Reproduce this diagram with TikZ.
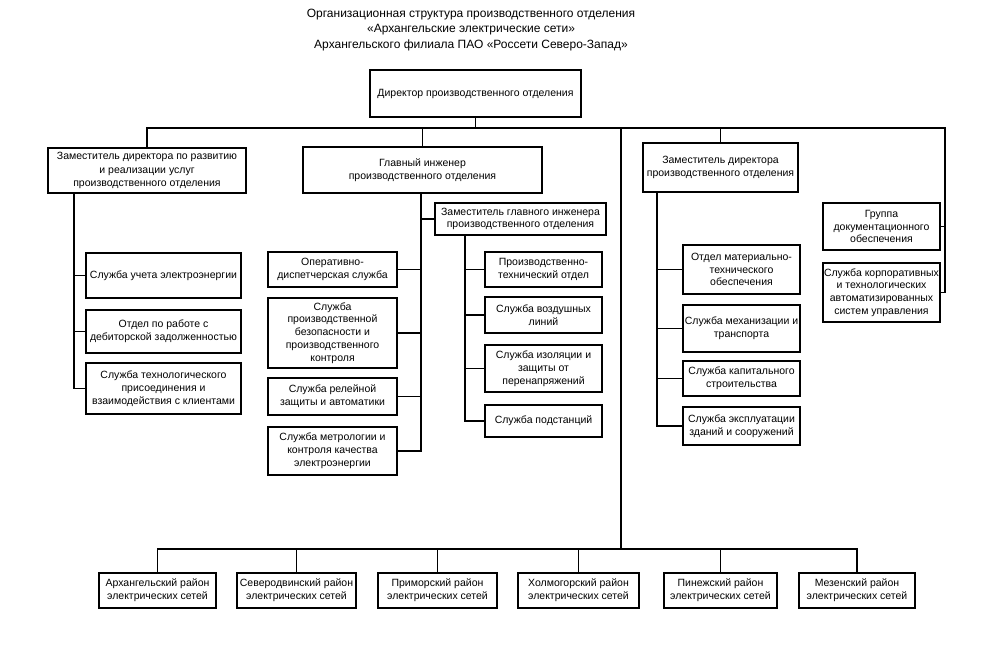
\documentclass[tikz,border=0pt]{standalone}
\usepackage{fontspec}
\setmainfont{Liberation Sans}
\begin{document}
\begin{tikzpicture}[x=1pt,y=-1pt]
\tikzset{
 box/.style={draw, line width=1.2pt, align=center, inner sep=0pt, font=\fontsize{10.5}{12.8}\selectfont},
 hbox/.style={box, font=\fontsize{10.5}{13.5}\selectfont},
 conn/.style={line width=1.1pt},
 ttl/.style={align=center, font=\fontsize{12}{15.5}\selectfont}
}
\fill[white] (0,0) rectangle (1001,665);
\useasboundingbox (0,0) rectangle (1001,665);

% title
\node[ttl] (title) at (471,30) {Организационная структура производственного отделения\\«Архангельские электрические сети»\\Архангельского филиала ПАО «Россети Северо-Запад»};

% top level
\node[hbox, minimum width=211pt, minimum height=47pt] (dir) at (475.5,93.5) {Директор производственного отделения};

\node[hbox, minimum width=198pt, minimum height=45pt] (zr) at (147,170.5) {Заместитель директора по развитию\\и реализации услуг\\производственного отделения};
\node[hbox, minimum width=239pt, minimum height=46pt] (gi) at (422.5,170) {Главный инженер\\производственного отделения};
\node[hbox, minimum width=155pt, minimum height=49pt] (zd) at (720.5,167.5) {Заместитель директора\\производственного отделения};

% left column
\node[box, minimum width=155pt, minimum height=45pt] (s1) at (163.5,275.5) {Служба учета электроэнергии};
\node[box, minimum width=155pt, minimum height=43pt] (s2) at (163.5,331.5) {Отдел по работе с\\дебиторской задолженностью};
\node[box, minimum width=155pt, minimum height=51pt] (s3) at (163.5,388.5) {Служба технологического\\присоединения и\\взаимодействия с клиентами};

% chief engineer column
\node[box, minimum width=129pt, minimum height=35pt] (o1) at (332.5,269.5) {Оперативно-\\диспетчерская служба};
\node[box, minimum width=129pt, minimum height=70pt] (o2) at (332.5,333) {Служба\\производственной\\безопасности и\\производственного\\контроля};
\node[box, minimum width=129pt, minimum height=37pt] (o3) at (332.5,396.5) {Служба релейной\\защиты и автоматики};
\node[box, minimum width=129pt, minimum height=48pt] (o4) at (332.5,451) {Служба метрологии и\\контроля качества\\электроэнергии};

\node[box, minimum width=171pt, minimum height=32pt] (zgi) at (520.5,219) {Заместитель главного инженера\\производственного отделения};
\node[box, minimum width=117pt, minimum height=35pt] (p1) at (543.5,269.5) {Производственно-\\технический отдел};
\node[box, minimum width=117pt, minimum height=36pt] (p2) at (543.5,315) {Служба воздушных\\линий};
\node[box, minimum width=117pt, minimum height=47pt] (p3) at (543.5,368.5) {Служба изоляции и\\защиты от\\перенапряжений};
\node[box, minimum width=117pt, minimum height=32pt] (p4) at (543.5,421) {Служба подстанций};

% deputy director column
\node[box, minimum width=117pt, minimum height=49pt] (m1) at (741.5,269.5) {Отдел материально-\\технического\\обеспечения};
\node[box, minimum width=117pt, minimum height=47pt] (m2) at (741.5,328.5) {Служба механизации и\\транспорта};
\node[box, minimum width=117pt, minimum height=35pt] (m3) at (741.5,378.5) {Служба капитального\\строительства};
\node[box, minimum width=117pt, minimum height=38pt] (m4) at (741.5,426) {Служба эксплуатации\\зданий и сооружений};

% right group
\node[box, minimum width=117pt, minimum height=47pt] (g1) at (881.5,226.5) {Группа\\документационного\\обеспечения};
\node[box, minimum width=117pt, minimum height=59pt] (g2) at (881.5,292.5) {Служба корпоративных\\и технологических\\автоматизированных\\систем управления};

% districts
\node[box, minimum width=117pt, minimum height=35pt] (b1) at (157.5,590.5) {Архангельский район\\электрических сетей};
\node[box, minimum width=119pt, minimum height=35pt] (b2) at (296.5,590.5) {Северодвинский район\\электрических сетей};
\node[box, minimum width=119pt, minimum height=35pt] (b3) at (437.5,590.5) {Приморский район\\электрических сетей};
\node[box, minimum width=121pt, minimum height=35pt] (b4) at (578.5,590.5) {Холмогорский район\\электрических сетей};
\node[box, minimum width=113pt, minimum height=35pt] (b5) at (720.5,590.5) {Пинежский район\\электрических сетей};
\node[box, minimum width=116pt, minimum height=35pt] (b6) at (857,590.5) {Мезенский район\\электрических сетей};

% helper coordinates
\coordinate (busR) at (945,128);
\coordinate (mtop) at (621,128);
\coordinate (mbot) at (621,549);
\coordinate (ztr) at (74,193);
\coordinate (gtr) at (421,193);
\coordinate (zgtr) at (465,235);
\coordinate (zdtr) at (657,192);

% top bus
\draw[conn] (zr.north) |- (busR) |- (g2.east);
\draw[conn] (g1.east) -- (g1.east -| busR);
\draw[conn] (dir.south) -- (dir.south |- busR);
\draw[conn] (gi.north) -- (gi.north |- busR);
\draw[conn] (zd.north) -- (zd.north |- busR);
\draw[conn] (mtop) -- (mbot);

% left column
\draw[conn] (ztr) |- (s3.west);
\draw[conn] (s1.west) -- (s1.west -| ztr);
\draw[conn] (s2.west) -- (s2.west -| ztr);

% chief engineer
\draw[conn] (gtr) |- (o4.east);
\draw[conn] (o1.east) -- (o1.east -| gtr);
\draw[conn] (o2.east) -- (o2.east -| gtr);
\draw[conn] (o3.east) -- (o3.east -| gtr);
\draw[conn] (zgi.west) -- (zgi.west -| gtr);
\draw[conn] (zgtr) |- (p4.west);
\draw[conn] (p1.west) -- (p1.west -| zgtr);
\draw[conn] (p2.west) -- (p2.west -| zgtr);
\draw[conn] (p3.west) -- (p3.west -| zgtr);

% deputy director
\draw[conn] (zdtr) |- (m4.west);
\draw[conn] (m1.west) -- (m1.west -| zdtr);
\draw[conn] (m2.west) -- (m2.west -| zdtr);
\draw[conn] (m3.west) -- (m3.west -| zdtr);

% districts
\draw[conn] (b1.north) |- (mbot) -| (b6.north);
\draw[conn] (b2.north) -- (b2.north |- mbot);
\draw[conn] (b3.north) -- (b3.north |- mbot);
\draw[conn] (b4.north) -- (b4.north |- mbot);
\draw[conn] (b5.north) -- (b5.north |- mbot);
\end{tikzpicture}
\end{document}
